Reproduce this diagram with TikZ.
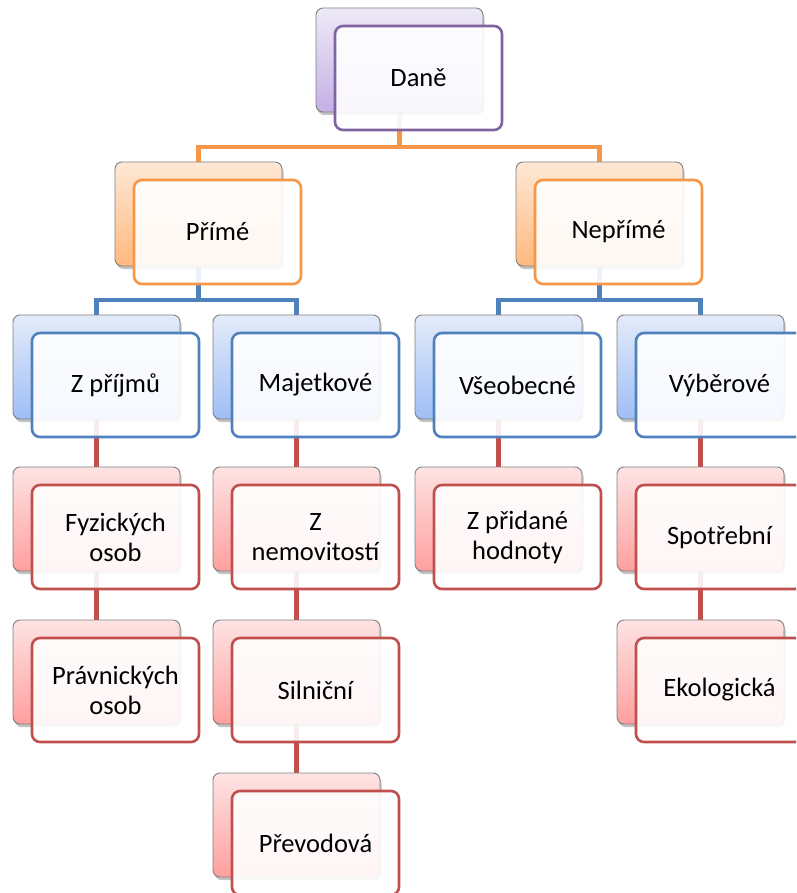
\documentclass[tikz,border=0pt]{standalone}
\usepackage{fontspec}
\setmainfont{Carlito}
\usetikzlibrary{shadows,calc}
\pgfdeclarelayer{bg}
\pgfsetlayers{bg,main}
\definecolor{cPur}{HTML}{8064A2}
\definecolor{cOra}{HTML}{F79646}
\definecolor{cBlu}{HTML}{4F81BD}
\definecolor{cRed}{HTML}{C0504D}
\definecolor{pTop}{HTML}{EEEAF6}
\definecolor{pBot}{HTML}{C4B0E6}
\definecolor{oTop}{HTML}{FEE8D6}
\definecolor{oBot}{HTML}{FFB97E}
\definecolor{bTop}{HTML}{E3EBF9}
\definecolor{bBot}{HTML}{9FBEF6}
\definecolor{rTop}{HTML}{FEE3E3}
\definecolor{rBot}{HTML}{FF9F9F}
\tikzset{
  backbox/.style={rectangle, rounded corners=7pt, minimum width=167pt, minimum height=104pt,
    draw=black!50, line width=0.9pt,
    drop shadow={shadow xshift=1.5pt, shadow yshift=-3pt, opacity=0.4, fill=black!60}},
  frontbox/.style={rectangle, rounded corners=8pt, minimum width=167pt, minimum height=104pt,
    line width=2.6pt, fill=white, fill opacity=0.9, text opacity=1, align=center,
    font=\fontsize{26.5}{30}\selectfont},
  purB/.style={backbox, top color=pTop, bottom color=pBot},
  oraB/.style={backbox, top color=oTop, bottom color=oBot},
  bluB/.style={backbox, top color=bTop, bottom color=bBot},
  redB/.style={backbox, top color=rTop, bottom color=rBot},
  purF/.style={frontbox, draw=cPur},
  oraF/.style={frontbox, draw=cOra},
  bluF/.style={frontbox, draw=cBlu},
  redF/.style={frontbox, draw=cRed},
  conn/.style={line width=4.6pt},
}
\newcommand\twobox[5]{%
  \node[#2B] (#1B) at (#3) {};
  \node[#2F] (#1) at ($(#1B)+(19,18)$) {#4};
}
\begin{document}
\begin{tikzpicture}[x=1pt,y=-1pt]
\useasboundingbox (0,0) rectangle (796,893);
\clip (0,0) rectangle (796,893);
% level 1
\twobox{dane}{pur}{399.5,60}{Daně}{}
% level 2
\twobox{prime}{ora}{198.5,214}{Přímé}{}
\twobox{neprime}{ora}{599.5,214}{Nepřímé}{}
% level 3
\twobox{prijmy}{blu}{96.5,367}{Z příjmů}{}
\twobox{majet}{blu}{296.5,367}{Majetkové}{}
\twobox{vseob}{blu}{498.5,367}{Všeobecné}{}
\twobox{vyber}{blu}{700.5,367}{Výběrové}{}
% level 4
\twobox{fyz}{red}{96.5,519}{Fyzických\\osob}{}
\twobox{nemov}{red}{296.5,519}{Z\\nemovitostí}{}
\twobox{dph}{red}{498.5,519}{Z přidané\\hodnoty}{}
\twobox{spotr}{red}{700.5,519}{Spotřební}{}
% level 5
\twobox{prav}{red}{96.5,672}{Právnických\\osob}{}
\twobox{siln}{red}{296.5,672}{Silniční}{}
\twobox{ekol}{red}{700.5,672}{Ekologická}{}
% level 6
\twobox{prev}{red}{296.5,825}{Převodová}{}
\coordinate (busO) at (0,147);
\coordinate (busB) at (0,300);
\begin{pgfonlayer}{bg}
  \draw[conn, cOra] (daneB.south) -- (daneB.south |- busO);
  \draw[conn, cOra] (primeB.north) |- (daneB.south |- busO) -| (neprimeB.north);
  \draw[conn, cBlu] (primeB.south) -- (primeB.south |- busB);
  \draw[conn, cBlu] (prijmyB.north) |- (primeB.south |- busB) -| (majetB.north);
  \draw[conn, cBlu] (neprimeB.south) -- (neprimeB.south |- busB);
  \draw[conn, cBlu] (vseobB.north) |- (neprimeB.south |- busB) -| (vyberB.north);
  \draw[conn, cRed] (prijmyB.south) -- (fyzB.north);
  \draw[conn, cRed] (fyzB.south) -- (pravB.north);
  \draw[conn, cRed] (majetB.south) -- (nemovB.north);
  \draw[conn, cRed] (nemovB.south) -- (silnB.north);
  \draw[conn, cRed] (silnB.south) -- (prevB.north);
  \draw[conn, cRed] (vseobB.south) -- (dphB.north);
  \draw[conn, cRed] (vyberB.south) -- (spotrB.north);
  \draw[conn, cRed] (spotrB.south) -- (ekolB.north);
\end{pgfonlayer}
\end{tikzpicture}
\end{document}
